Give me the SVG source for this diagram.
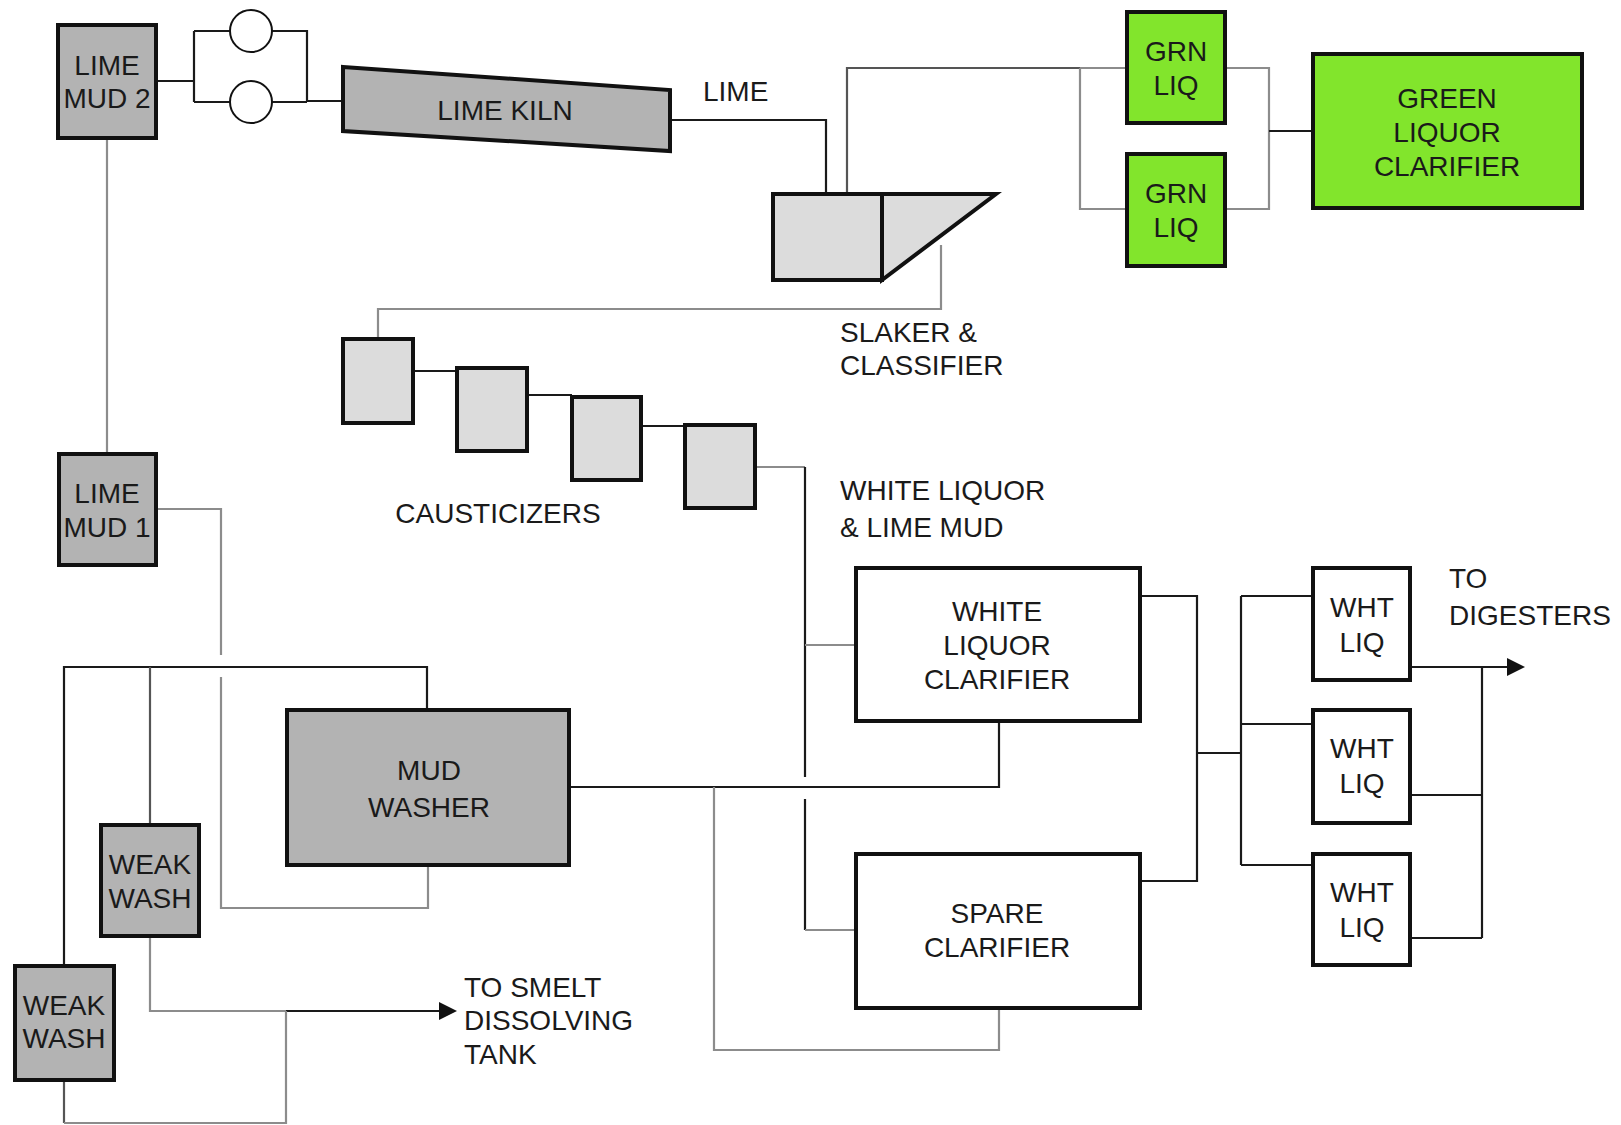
<svg xmlns="http://www.w3.org/2000/svg" width="1621" height="1125" viewBox="0 0 1621 1125">
<style>
  .dk { fill: #b3b3b3; stroke: #111; stroke-width: 4; }
  .lt { fill: #dcdcdc; stroke: #111; stroke-width: 4; }
  .gr { fill: #82e52c; stroke: #111; stroke-width: 4; }
  .wh { fill: #ffffff; stroke: #111; stroke-width: 4; }
  .pump { fill: #ffffff; stroke: #111; stroke-width: 2; }
  .k { fill: none; stroke: #1a1a1a; stroke-width: 2.2; }
  .g { fill: none; stroke: #8c8c8c; stroke-width: 2.2; }
  .d { fill: none; stroke: #555555; stroke-width: 2.2; }
  text { font-family: "Liberation Sans", Arial, sans-serif; font-size: 28px; fill: #1a1a1a; }
  .c { text-anchor: middle; }
</style>
<defs>
  <marker id="arr" viewBox="0 0 18 18" refX="11" refY="9" markerWidth="18" markerHeight="18" markerUnits="userSpaceOnUse" orient="auto">
    <path d="M0 0 L18 9 L0 18 Z" fill="#111"/>
  </marker>
</defs>

<g id="connectors">
  <!-- lime mud 2 to pumps to kiln -->
  <path class="k" d="M158 81 H194 M194 31 V102 M194 31 H230 M194 102 H230"/>
  <path class="k" d="M272 31 H307 V102 M272 102 H307 M307 101 H343"/>
  <!-- kiln to slaker -->
  <path class="k" d="M670 120 H826 V194"/>
  <!-- slaker to green liquor -->
  <path class="d" d="M847 194 V68 H1080"/>
  <path class="g" d="M1080 68 H1127 M1080 68 V209 H1127"/>
  <path class="g" d="M1225 68 H1269 V209 H1225"/>
  <path class="k" d="M1269 131 H1313"/>
  <!-- classifier to causticizers -->
  <path class="g" d="M941 245 V309 H378 V339"/>
  <path class="k" d="M413 371 H457 M527 395 H572 M641 426 H685"/>
  <path class="g" d="M755 467 H805"/>
  <path class="k" d="M805 467 V777 M805 799 V930"/>
  <path class="g" d="M805 645 H856 M805 930 H856"/>
  <!-- mud washer to clarifiers -->
  <path class="k" d="M569 787 H999 V721"/>
  <path class="g" d="M714 787 V1050 H999 V1008"/>
  <!-- clarifiers to white liquor tanks -->
  <path class="k" d="M1140 596 H1197 V881 H1140 M1197 753 H1241 M1241 596 V865 M1241 596 H1313 M1241 724 H1313 M1241 865 H1313"/>
  <path class="k" d="M1410 667 H1518" marker-end="url(#arr)"/>
  <path class="k" d="M1482 667 V938 M1410 795 H1482 M1410 938 H1482"/>
  <!-- lime mud lines -->
  <path class="g" d="M107 140 V452"/>
  <path class="g" d="M158 509 H221 V655 M221 677 V908 H428 V867"/>
  <path class="k" d="M64 966 V667 H427 V710"/>
  <path class="d" d="M150 667 V825"/>
  <!-- weak wash to smelt dissolving tank -->
  <path class="g" d="M150 938 V1011 H286"/>
  <path class="k" d="M286 1011 H450" marker-end="url(#arr)"/>
  <path class="d" d="M64 1082 V1123"/>
  <path class="g" d="M64 1123 H286 V1011"/>
</g>

<g id="lime-mud-2">
  <rect class="dk" x="58" y="25" width="98" height="113"/>
  <text class="c" x="107" y="75">LIME</text>
  <text class="c" x="107" y="108">MUD 2</text>
</g>
<g id="pump-1"><circle class="pump" cx="251" cy="31" r="21"/></g>
<g id="pump-2"><circle class="pump" cx="251" cy="102" r="21"/></g>
<g id="lime-kiln">
  <polygon class="dk" points="343,67 670,90 670,151 343,131"/>
  <text class="c" x="505" y="120">LIME KILN</text>
</g>
<g id="lime-label"><text x="703" y="101">LIME</text></g>
<g id="slaker">
  <rect class="lt" x="773" y="194" width="109" height="86"/>
  <polygon class="lt" points="882,194 996,194 882,280"/>
</g>
<g id="slaker-label">
  <text x="840" y="342">SLAKER &amp;</text>
  <text x="840" y="375">CLASSIFIER</text>
</g>
<g id="grn-liq-1">
  <rect class="gr" x="1127" y="12" width="98" height="111"/>
  <text class="c" x="1176" y="61">GRN</text>
  <text class="c" x="1176" y="95">LIQ</text>
</g>
<g id="grn-liq-2">
  <rect class="gr" x="1127" y="154" width="98" height="112"/>
  <text class="c" x="1176" y="203">GRN</text>
  <text class="c" x="1176" y="237">LIQ</text>
</g>
<g id="green-liquor-clarifier">
  <rect class="gr" x="1313" y="54" width="269" height="154"/>
  <text class="c" x="1447" y="108">GREEN</text>
  <text class="c" x="1447" y="142">LIQUOR</text>
  <text class="c" x="1447" y="176">CLARIFIER</text>
</g>
<g id="causticizer-1"><rect class="lt" x="343" y="339" width="70" height="84"/></g>
<g id="causticizer-2"><rect class="lt" x="457" y="368" width="70" height="83"/></g>
<g id="causticizer-3"><rect class="lt" x="572" y="397" width="69" height="83"/></g>
<g id="causticizer-4"><rect class="lt" x="685" y="425" width="70" height="83"/></g>
<g id="causticizers-label"><text class="c" x="498" y="523">CAUSTICIZERS</text></g>
<g id="white-liquor-label">
  <text x="840" y="500">WHITE LIQUOR</text>
  <text x="840" y="537">&amp; LIME MUD</text>
</g>
<g id="lime-mud-1">
  <rect class="dk" x="59" y="454" width="97" height="111"/>
  <text class="c" x="107" y="503">LIME</text>
  <text class="c" x="107" y="537">MUD 1</text>
</g>
<g id="mud-washer">
  <rect class="dk" x="287" y="710" width="282" height="155"/>
  <text class="c" x="429" y="780">MUD</text>
  <text class="c" x="429" y="817">WASHER</text>
</g>
<g id="weak-wash-1">
  <rect class="dk" x="101" y="825" width="98" height="111"/>
  <text class="c" x="150" y="874">WEAK</text>
  <text class="c" x="150" y="908">WASH</text>
</g>
<g id="weak-wash-2">
  <rect class="dk" x="15" y="966" width="99" height="114"/>
  <text class="c" x="64" y="1015">WEAK</text>
  <text class="c" x="64" y="1048">WASH</text>
</g>
<g id="smelt-label">
  <text x="464" y="997">TO SMELT</text>
  <text x="464" y="1030">DISSOLVING</text>
  <text x="464" y="1064">TANK</text>
</g>
<g id="white-liquor-clarifier">
  <rect class="wh" x="856" y="568" width="284" height="153"/>
  <text class="c" x="997" y="621">WHITE</text>
  <text class="c" x="997" y="655">LIQUOR</text>
  <text class="c" x="997" y="689">CLARIFIER</text>
</g>
<g id="spare-clarifier">
  <rect class="wh" x="856" y="854" width="284" height="154"/>
  <text class="c" x="997" y="923">SPARE</text>
  <text class="c" x="997" y="957">CLARIFIER</text>
</g>
<g id="wht-liq-1">
  <rect class="wh" x="1313" y="568" width="97" height="112"/>
  <text class="c" x="1362" y="617">WHT</text>
  <text class="c" x="1362" y="652">LIQ</text>
</g>
<g id="wht-liq-2">
  <rect class="wh" x="1313" y="710" width="97" height="113"/>
  <text class="c" x="1362" y="758">WHT</text>
  <text class="c" x="1362" y="793">LIQ</text>
</g>
<g id="wht-liq-3">
  <rect class="wh" x="1313" y="854" width="97" height="111"/>
  <text class="c" x="1362" y="902">WHT</text>
  <text class="c" x="1362" y="937">LIQ</text>
</g>
<g id="digesters-label">
  <text x="1449" y="588">TO</text>
  <text x="1449" y="625">DIGESTERS</text>
</g>
</svg>
